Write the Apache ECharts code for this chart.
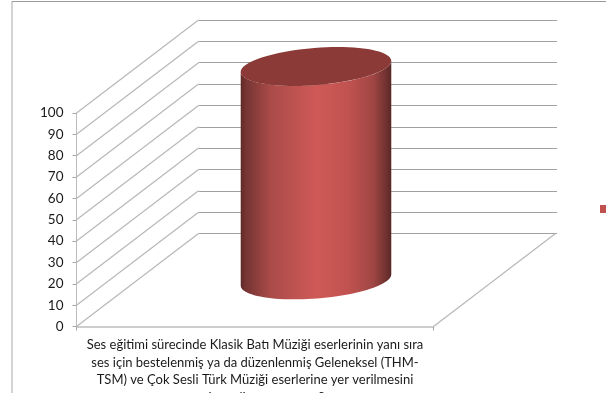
<!DOCTYPE html>
<html><head><meta charset="utf-8">
<style>html,body{margin:0;padding:0;background:#fff}#c{width:606px;height:397px}</style>
<script src="https://cdn.jsdelivr.net/npm/echarts@6/dist/echarts.min.js"></script>
</head><body><div id="c"></div>
<script>
const categories = ["Ses eğitimi sürecinde Klasik Batı Müziği eserlerinin yanı sıra\nses için bestelenmiş ya da düzenlenmiş Geleneksel (THM-\nTSM) ve Çok Sesli Türk Müziği eserlerine yer verilmesini\ntavsiye ediyor musunuz?"];
const values = [100];
const ticks = [0,10,20,30,40,50,60,70,80,90,100];
const seriesName = "Seri 1";

const chart = echarts.init(document.getElementById('c'), null, {renderer:'canvas'});
const DX = 122, DY = -93;            // depth of the 3D box
const RX = 75.5, RY = 18.5, TILT = -4.5*Math.PI/180;
const font = 'Lato';

function ellipsePt(cx, cy, t){
  const x = RX*Math.cos(t), y = RY*Math.sin(t);
  return [cx + x*Math.cos(TILT) - y*Math.sin(TILT), cy + x*Math.sin(TILT) + y*Math.cos(TILT)];
}
function renderCylinder(params, api){
  const base = api.coord([api.value(0), 0]);
  const top = api.coord([api.value(0), api.value(1)]);
  const cx = base[0] + DX/2, by = base[1] + DY/2, ty = top[1] + DY/2;
  const pts = [];
  for (let i=0;i<=48;i++){ pts.push(ellipsePt(cx, by, Math.PI - Math.PI*i/48)); }
  for (let i=0;i<=48;i++){ pts.push(ellipsePt(cx, ty, Math.PI*i/48)); }
  return {type:'group', children:[
    {type:'polygon', shape:{points:pts}, style:{fill:new echarts.graphic.LinearGradient(0,0,1,0,[
      {offset:0,color:'#5c2927'},{offset:0.03,color:'#743432'},{offset:0.2,color:'#aa4b49'},
      {offset:0.5,color:'#cf5a57'},{offset:0.72,color:'#c0524f'},{offset:0.88,color:'#a04644'},
      {offset:0.97,color:'#6e312f'},{offset:1,color:'#592725'}])}},
    {type:'ellipse', x:cx, y:ty, rotation:-TILT, shape:{cx:0,cy:0,rx:RX,ry:RY},
      style:{fill:'#8b3a38'}}
  ]};
}
function renderSlant(params, api){
  const p = api.coord([0, api.value(0)]);
  const left = params.coordSys.x;
  return {type:'line', shape:{x1:left, y1:p[1], x2:left+DX, y2:p[1]+DY},
    style:{stroke:'#b8b8b8', lineWidth:1.2}};
}
function renderFloor(params, api){
  const g = params.coordSys;
  return {type:'line', shape:{x1:g.x+g.width, y1:g.y+g.height, x2:g.x+g.width+DX, y2:g.y+g.height+DY},
    style:{stroke:'#b8b8b8', lineWidth:1.2}};
}

chart.setOption({
  animation:false,
  backgroundColor:'#fff',
  textStyle:{fontFamily:font},
  legend:{show:true,left:600,top:205,padding:0,itemWidth:8,itemHeight:8,icon:'rect',data:[seriesName],
    formatter:function(){return '';},selectedMode:false},
  grid:[
    {left:76.5,top:113,width:357,height:213.5,outerBoundsMode:'none'},
    {left:198.5,top:20,width:358.5,height:213.5,outerBoundsMode:'none'}
  ],
  xAxis:[
    {type:'category',gridIndex:0,data:categories,
     axisLine:{lineStyle:{color:'#bdbdbd',width:1.5}},
     axisTick:{show:true,length:4,alignWithLabel:false,lineStyle:{color:'#a8a8a8'}},
     axisLabel:{interval:0,color:'#1a1a1a',fontFamily:font,fontSize:13,lineHeight:17.4,margin:10,align:'center'}},
    {type:'category',gridIndex:1,data:categories,axisLine:{show:false},axisTick:{show:false},axisLabel:{show:false}}
  ],
  yAxis:[
    {type:'value',gridIndex:0,min:0,max:100,interval:10,
     splitLine:{show:false},
     axisLine:{show:true,lineStyle:{color:'#bdbdbd'}},
     axisTick:{show:true,length:4,lineStyle:{color:'#a8a8a8'}},
     axisLabel:{color:'#1a1a1a',fontFamily:font,fontSize:13.5,margin:13}},
    {type:'value',gridIndex:1,min:0,max:100,interval:10,
     splitLine:{show:true,lineStyle:{color:'#a0a0a0',width:1}},
     axisLine:{show:false},axisTick:{show:false},axisLabel:{show:false}}
  ],
  series:[
    {type:'custom',name:'slants',xAxisIndex:0,yAxisIndex:0,data:ticks.map(t=>[t]),
     encode:{y:0},renderItem:renderSlant,silent:true,z:1,clip:false},
    {type:'custom',name:'floor',xAxisIndex:0,yAxisIndex:0,data:[[0]],
     encode:{y:0},renderItem:renderFloor,silent:true,z:1,clip:false},
    {type:'custom',name:seriesName,xAxisIndex:0,yAxisIndex:0,
     data:values.map((v,i)=>[i,v]),encode:{x:0,y:1},renderItem:renderCylinder,
     itemStyle:{color:'#c0504d'},silent:true,z:5,clip:false}
  ],
  graphic:[
    {type:'line',shape:{x1:12,y1:1.5,x2:606,y2:1.5},style:{stroke:'#9a9a9a',lineWidth:1},z:20},
    {type:'line',shape:{x1:12,y1:1,x2:12,y2:393},style:{stroke:'#a8a8a8',lineWidth:1},z:20},
    {type:'rect',shape:{x:0,y:393,width:606,height:4},style:{fill:'#fff'},z:100,zlevel:1}
  ]
});
</script></body></html>
